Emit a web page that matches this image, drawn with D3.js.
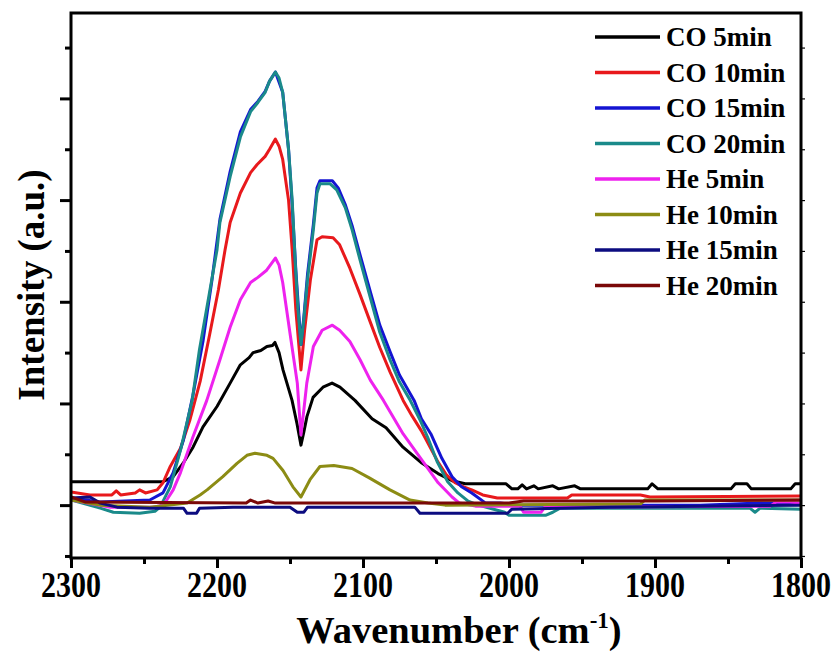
<!DOCTYPE html>
<html>
<head>
<meta charset="utf-8">
<script src="https://cdn.jsdelivr.net/npm/d3@7"></script>
<style>
  html, body { margin: 0; padding: 0; background: #fff; }
  svg { display: block; }
  text { font-family: "Liberation Serif", "Times New Roman", serif; font-weight: bold; fill: #000; }
</style>
</head>
<body>
<svg id="chart" width="837" height="653"></svg>
<script>
// ---------------- data (wavenumber cm-1, intensity a.u.) ----------------
const seriesNames = ["CO 5min", "CO 10min", "CO 15min", "CO 20min", "He 5min", "He 10min", "He 15min", "He 20min"];

const co5 = [[2300,0.23],[2237,0.23],[2230,0.28],[2223.3,0.41],[2216.4,0.57],[2209.6,0.77],[2200,0.97],[2191,1.20],[2184,1.38],[2178,1.45],[2175.3,1.50],[2170,1.52],[2165.8,1.56],[2162,1.57],[2160.3,1.60],[2157.5,1.50],[2154.8,1.33],[2148.6,1.03],[2145.2,0.80],[2142.5,0.59],[2140.5,0.72],[2138.4,0.87],[2134.2,1.06],[2127.4,1.16],[2121.2,1.20],[2115.8,1.16],[2105.5,1.03],[2093.8,0.85],[2084.2,0.76],[2072.6,0.57],[2060.3,0.42],[2048.6,0.31],[2039,0.24],[2030,0.21],[2002,0.21],[1998,0.16],[1994,0.16],[1991,0.20],[1988,0.16],[1983,0.19],[1980,0.16],[1970,0.19],[1966,0.16],[1955,0.19],[1951,0.16],[1905,0.16],[1902,0.21],[1898,0.16],[1848,0.16],[1845,0.21],[1837,0.21],[1834,0.16],[1807,0.16],[1804,0.21],[1800,0.21]];

const co10 = [[2300,0.13],[2287,0.10],[2272,0.10],[2269,0.14],[2266,0.10],[2256,0.12],[2253,0.15],[2249,0.12],[2241,0.15],[2237,0.22],[2232,0.38],[2225,0.56],[2218.5,0.84],[2211.5,1.22],[2205,1.68],[2199,2.12],[2194.5,2.51],[2191,2.78],[2184,3.07],[2177,3.27],[2172.5,3.35],[2167,3.43],[2164,3.50],[2160,3.60],[2157.5,3.53],[2155,3.40],[2151,3.00],[2148.5,2.51],[2146,1.92],[2142.5,1.33],[2140,1.72],[2136,2.22],[2131.5,2.61],[2128,2.64],[2120.5,2.63],[2116,2.56],[2109,2.33],[2102,2.07],[2095,1.80],[2088.5,1.55],[2081.5,1.31],[2072.5,1.03],[2066.5,0.88],[2060,0.73],[2054,0.57],[2048.5,0.42],[2043,0.30],[2037,0.22],[2031,0.18],[2025.5,0.15],[2018,0.10],[2008,0.07],[1960,0.07],[1957,0.10],[1910,0.10],[1903.5,0.08],[1800,0.09]];

const co15 = [[2300,0.07],[2280,0.03],[2246,0.05],[2237,0.12],[2230,0.32],[2223,0.64],[2216.5,1.08],[2209.5,1.62],[2203.5,2.21],[2198,2.81],[2191,3.28],[2184,3.67],[2177,3.89],[2172,3.97],[2167,4.07],[2164,4.17],[2160,4.26],[2155,4.06],[2151,3.50],[2148.5,2.95],[2146,2.31],[2142.5,1.58],[2140.5,1.85],[2138,2.27],[2134,2.76],[2131.5,3.12],[2129.5,3.19],[2121,3.19],[2117,3.12],[2112,2.95],[2107.5,2.75],[2102,2.46],[2095,2.10],[2088.5,1.77],[2081.5,1.51],[2075,1.28],[2065,1.03],[2060,0.85],[2053.5,0.70],[2046,0.46],[2039,0.28],[2032.5,0.18],[2025.5,0.12],[2016,0.02],[2006,0.02],[1993,0.00],[1938,0.00],[1869,0.00],[1828,0.02],[1800,0.02]];

const co20 = [[2300,0.05],[2280,-0.03],[2271,-0.07],[2253,-0.08],[2242.5,-0.06],[2239,-0.02],[2232,0.18],[2225,0.54],[2217,1.03],[2212,1.53],[2206,2.02],[2200,2.51],[2198,2.78],[2191,3.23],[2184,3.62],[2177,3.87],[2172,3.96],[2167,4.06],[2164,4.17],[2160,4.26],[2157.5,4.20],[2155,4.06],[2151,3.50],[2148.5,3.00],[2146.5,2.41],[2144.5,1.92],[2142.5,1.58],[2140.5,1.83],[2138,2.22],[2134,2.71],[2131.5,3.07],[2129.5,3.16],[2122.5,3.16],[2118,3.10],[2112,2.92],[2107.5,2.71],[2102,2.41],[2095,2.04],[2088.5,1.70],[2081.5,1.43],[2075,1.21],[2068,1.04],[2061,0.84],[2055.5,0.66],[2049,0.42],[2042,0.23],[2035,0.12],[2028,0.04],[2021,0.00],[2013,-0.03],[2003,-0.07],[2000,-0.10],[1975,-0.10],[1970,-0.07],[1965,-0.03],[1835,-0.03],[1831.5,-0.07],[1828,-0.03],[1800,-0.04]];

const he5 = [[2300,0.05],[2273,-0.02],[2244,-0.02],[2237,0.00],[2234,0.06],[2230,0.15],[2225,0.32],[2216.5,0.67],[2207,1.03],[2198,1.43],[2191,1.75],[2184,2.02],[2177,2.19],[2172,2.24],[2166,2.31],[2160,2.43],[2157.5,2.36],[2155,2.19],[2150,1.69],[2145,1.20],[2142.5,0.69],[2140.5,0.94],[2138.5,1.20],[2134,1.56],[2128,1.72],[2121,1.77],[2116,1.72],[2109,1.61],[2102,1.43],[2095,1.23],[2086,1.03],[2072.5,0.70],[2060,0.45],[2048.5,0.22],[2039,0.08],[2034,0.02],[2023,-0.01],[1992.5,-0.01],[1990,-0.07],[1978,-0.07],[1975.5,-0.02],[1821,-0.01],[1817,0.03],[1808,0.03],[1800,0.02]];

const he10 = [[2300,0.05],[2280,0.00],[2246,-0.02],[2220.5,0.02],[2211.6,0.10],[2206.8,0.15],[2196,0.28],[2186.3,0.41],[2179.5,0.49],[2174,0.51],[2165.8,0.49],[2161.6,0.46],[2154.8,0.34],[2148,0.18],[2142.5,0.08],[2136.3,0.25],[2129.5,0.38],[2120,0.39],[2107.5,0.36],[2096,0.27],[2081.5,0.15],[2067.8,0.05],[2055.5,0.02],[2043.8,0.00],[1910,0.01],[1907,0.05],[1800,0.05]];

const he15 = [[2300,0.07],[2287,0.08],[2280,0.02],[2268.5,-0.02],[2246,-0.03],[2223,-0.03],[2220.5,-0.08],[2214,-0.08],[2212,-0.03],[2189,-0.02],[2150,-0.02],[2145,-0.07],[2140.5,-0.07],[2138,-0.02],[2064.5,-0.02],[2061,-0.08],[2001,-0.08],[1998,-0.04],[1931,-0.02],[1869,-0.01],[1800,0.00]];

const he20 = [[2300,0.08],[2290,0.03],[2180,0.02],[2177,0.05],[2172,0.02],[2165,0.04],[2160,0.02],[2000,0.02],[1990,0.04],[1900,0.04],[1800,0.05]];

const xTickLabels = [2300, 2200, 2100, 2000, 1900, 1800];
const xMinorTicks = [2250, 2150, 2050, 1950, 1850];
const yMajorTicks = [0, 1, 2, 3, 4];
const yMinorTicks = [-0.5, 0.5, 1.5, 2.5, 3.5, 4.5];

// ---------------- styles ----------------
const seriesData = [co5, co10, co15, co20, he5, he10, he15, he20];
const colors = ["#000000", "#e8191c", "#1414d2", "#1a8a8a", "#ee22ee", "#8c8c14", "#0c0c80", "#7a0808"];

const svg = d3.select("#chart");
const L = 71, R = 801, T = 13, B = 558;
const x = d3.scaleLinear().domain([2300, 1800]).range([L, R]);
const y = d3.scaleLinear().domain([-0.52, 4.84]).range([B, T]);

svg.append("defs").append("clipPath").attr("id", "clip")
  .append("rect").attr("x", L).attr("y", T).attr("width", R - L).attr("height", B - T);

const line = d3.line().x(d => x(d[0])).y(d => y(d[1]));

const g = svg.append("g").attr("clip-path", "url(#clip)");
seriesData.forEach((s, i) => {
  g.append("path").datum(s)
    .attr("d", line)
    .attr("fill", "none")
    .attr("stroke", colors[i])
    .attr("stroke-width", 3)
    .attr("stroke-linejoin", "round");
});

// axes
function styleAxis(sel, w) {
  sel.select(".domain").remove();
  sel.selectAll(".tick line").attr("stroke", "#000").attr("stroke-width", w);
}
const xMajor = svg.append("g").attr("transform", `translate(0,${B})`)
  .call(d3.axisBottom(x).tickValues(xTickLabels).tickSize(10).tickFormat(""));
styleAxis(xMajor, 3);
const xMinor = svg.append("g").attr("transform", `translate(0,${B})`)
  .call(d3.axisBottom(x).tickValues(xMinorTicks).tickSize(6).tickFormat(""));
styleAxis(xMinor, 3);

// x tick labels (slightly tall glyphs, as in the reference)
svg.append("g").selectAll("text").data(xTickLabels).join("text")
  .attr("transform", d => `translate(${x(d)},597) scale(1,1.2)`)
  .attr("text-anchor", "middle").attr("font-size", 30)
  .text(d => d3.format("d")(d));

const yMajor = svg.append("g").attr("transform", `translate(${L},0)`)
  .call(d3.axisLeft(y).tickValues(yMajorTicks).tickSize(11).tickFormat(""));
styleAxis(yMajor, 3);
const yMinor = svg.append("g").attr("transform", `translate(${L},0)`)
  .call(d3.axisLeft(y).tickValues(yMinorTicks).tickSize(6).tickFormat(""));
styleAxis(yMinor, 3);
const yRight = svg.append("g").attr("transform", `translate(${R},0)`)
  .call(d3.axisRight(y).tickValues(yMajorTicks.concat(yMinorTicks)).tickSize(4).tickFormat(""));
styleAxis(yRight, 1.2);

// frame
svg.append("rect").attr("x", L).attr("y", T).attr("width", R - L).attr("height", B - T)
  .attr("fill", "none").attr("stroke", "#000").attr("stroke-width", 3);

// axis titles
const xt = svg.append("text").attr("x", 459).attr("y", 643).attr("text-anchor", "middle").attr("font-size", 38.5);
xt.append("tspan").text("Wavenumber (cm");
xt.append("tspan").attr("font-size", 23).attr("dy", -15).text("-1");
xt.append("tspan").attr("dy", 15).text(")");

svg.append("text").attr("transform", "translate(44,285) rotate(-90)")
  .attr("text-anchor", "middle").attr("font-size", 37).text("Intensity (a.u.)");

// legend
const leg = svg.append("g");
seriesNames.forEach((n, i) => {
  const cy = 37 + 35.5 * i;
  leg.append("line").attr("x1", 595).attr("x2", 660).attr("y1", cy).attr("y2", cy)
    .attr("stroke", colors[i]).attr("stroke-width", 3.5);
  leg.append("text").attr("x", 666).attr("y", cy + 9).attr("font-size", 27).text(n);
});
</script>
</body>
</html>
